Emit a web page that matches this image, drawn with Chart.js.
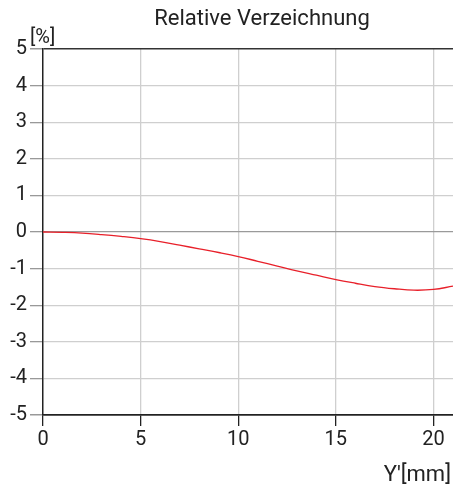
<!DOCTYPE html>
<html>
<head>
<meta charset="utf-8">
<script src="https://cdn.jsdelivr.net/npm/chart.js@4/dist/chart.umd.min.js"></script>
<style>
  html, body { margin: 0; padding: 0; background: #fff; }
  #wrap { width: 453px; height: 494px; position: relative; }
</style>
</head>
<body>
<div id="wrap"><canvas id="chart"></canvas></div>
<script>
// Bildhöhe Y' in mm und relative Verzeichnung in %
const yPrime = [0, 1, 2, 3, 4, 5, 6, 7, 8, 9, 10, 11, 12, 13, 14, 15, 16, 17, 18, 19, 20, 21];
const distortion = [0, -0.01, -0.03, -0.07, -0.12, -0.18, -0.26, -0.36, -0.46, -0.56, -0.67,
                    -0.80, -0.93, -1.06, -1.18, -1.30, -1.40, -1.49, -1.55, -1.59, -1.57, -1.48];
const xTicks = [0, 5, 10, 15, 20];
const yTicks = [-5, -4, -3, -2, -1, 0, 1, 2, 3, 4, 5];

const TITLE = 'Relative Verzeichnung';
const Y_UNIT = '[%]';
const X_UNIT = "Y'[mm]";
const FONT = 'Roboto, "Liberation Sans", sans-serif';

const labelsPlugin = {
    id: 'labels',
    afterDraw(chart) {
        const ctx = chart.ctx;
        ctx.save();
        ctx.fillStyle = '#222';
        ctx.textBaseline = 'alphabetic';
        ctx.font = '22px ' + FONT;
        ctx.textAlign = 'center';
        ctx.fillText(TITLE, 262, 25);
        ctx.font = '20px ' + FONT;
        ctx.textAlign = 'left';
        ctx.fillText(Y_UNIT, 30, 43);
        ctx.font = '22px ' + FONT;
        ctx.textAlign = 'right';
        ctx.fillText(X_UNIT, 451, 481);
        ctx.restore();
    }
};

new Chart(document.getElementById('chart'), {
    type: 'scatter',
    data: {
        datasets: [{
            data: yPrime.map((x, i) => ({ x: x, y: distortion[i] })),
            showLine: true,
            borderColor: '#e8202a',
            borderWidth: 1.3,
            pointRadius: 0,
            tension: 0.4,
            fill: false
        }]
    },
    options: {
        responsive: true,
        maintainAspectRatio: false,
        animation: false,
        layout: { padding: { top: 49, right: 0, left: 0, bottom: 0 } },
        plugins: {
            legend: { display: false },
            tooltip: { enabled: false },
            title: { display: false }
        },
        scales: {
            x: {
                type: 'linear',
                min: 0,
                max: 21,
                afterBuildTicks: (s) => { s.ticks = xTicks.map(v => ({ value: v })); },
                afterFit: (s) => { s.height = 79; },
                border: { color: '#222', width: 1.5 },
                grid: {
                    color: (c) => c.tick && c.tick.value === 0 ? 'rgba(0,0,0,0)' : '#cfcfcf',
                    tickColor: '#222',
                    tickLength: 11,
                    lineWidth: 1.3
                },
                ticks: {
                    color: '#222',
                    padding: 2,
                    font: { family: FONT, size: 20 }
                }
            },
            y: {
                min: -5,
                max: 5,
                afterBuildTicks: (s) => { s.ticks = yTicks.map(v => ({ value: v })); },
                afterFit: (s) => { s.width = 43; },
                border: { color: '#222', width: 1.5 },
                grid: {
                    color: (c) => {
                        const v = c.tick && c.tick.value;
                        if (v === 5 || v === -5) return '#333';
                        if (v === 0) return '#9a9a9a';
                        return '#cfcfcf';
                    },
                    lineWidth: (c) => (c.tick && (c.tick.value === 5 || c.tick.value === -5)) ? 1.5 : 1.3,
                    tickColor: '#999',
                    tickLength: 13
                },
                ticks: {
                    color: '#222',
                    padding: 3,
                    font: { family: FONT, size: 20 }
                }
            }
        }
    },
    plugins: [labelsPlugin]
});
</script>
</body>
</html>
